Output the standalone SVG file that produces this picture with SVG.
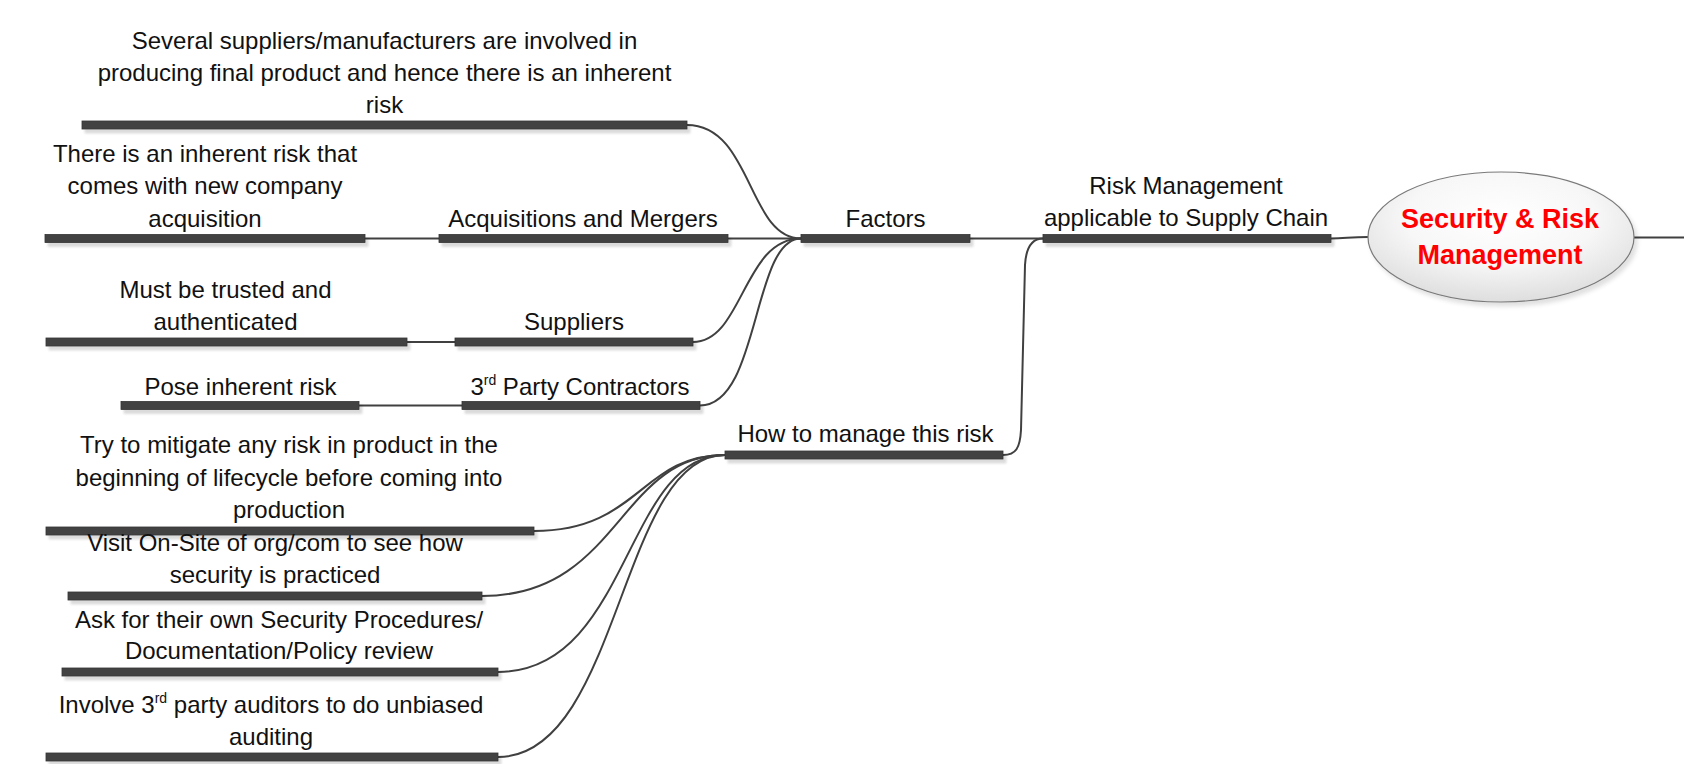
<svg xmlns="http://www.w3.org/2000/svg" width="1684" height="764" viewBox="0 0 1684 764">
  <style>
    .lbl { font-family: "Liberation Sans", Arial, sans-serif; font-size: 24px; fill: #111; text-anchor: middle; }
    .sup { font-size: 14px; }
    .title { font-family: "Liberation Sans", Arial, sans-serif; font-size: 27px; font-weight: bold; fill: #ff0000; text-anchor: middle; }
    .bar { fill: #434343; stroke: #333; stroke-width: 0.8; filter: url(#shadow); }
    .link { fill: none; stroke: #404040; stroke-width: 2; }
  </style>
  <defs>
    <filter id="shadow" x="-5%" y="-100%" width="110%" height="300%">
      <feDropShadow dx="3" dy="4" stdDeviation="1.2" flood-color="#000" flood-opacity="0.14"/>
    </filter>
    <filter id="ovalShadow" x="-10%" y="-10%" width="120%" height="130%">
      <feDropShadow dx="3" dy="4" stdDeviation="2" flood-color="#000" flood-opacity="0.12"/>
    </filter>
    <radialGradient id="ovalFill" cx="50%" cy="35%" r="65%">
      <stop offset="0" stop-color="#ffffff"/>
      <stop offset="0.55" stop-color="#f7f7f7"/>
      <stop offset="1" stop-color="#dedede"/>
    </radialGradient>
  </defs>

  <!-- connectors -->
  <g id="connectors">
    <path class="link" d="M687,125 C752,125 748,238.5 801,238.5"/>
    <path class="link" d="M728,238.5 L801,238.5"/>
    <path class="link" d="M693,342 C743,342 743,238.5 801,238.5"/>
    <path class="link" d="M700,405.5 C760,405.5 752,238.5 801,238.5"/>
    <path class="link" d="M365,238.5 L439,238.5"/>
    <path class="link" d="M407,342 L455,342"/>
    <path class="link" d="M359,405.5 L462,405.5"/>
    <path class="link" d="M970,238.5 L1043,238.5"/>
    <path class="link" d="M1003,455 C1016,455 1020,448 1021,430 L1025,265 C1026,248 1032,238.5 1043,238.5"/>
    <path class="link" d="M1331,238.5 C1345,238.5 1350,237 1368,237"/>
    <path class="link" d="M1634,237.5 L1684,237.5"/>
    <path class="link" d="M534,531 C640,531 640,455 725,455"/>
    <path class="link" d="M482,596 C620,596 618,455 725,455"/>
    <path class="link" d="M498,672 C630,672 624,455 725,455"/>
    <path class="link" d="M498,757 C620,757 620,455 725,455"/>
  </g>

  <!-- central topic -->
  <g id="root">
    <ellipse cx="1501" cy="237" rx="133" ry="65" fill="url(#ovalFill)" stroke="#7a7a7a" stroke-width="1.2" filter="url(#ovalShadow)"/>
    <text class="title" x="1500" y="228">Security &amp; Risk</text>
    <text class="title" x="1500" y="264">Management</text>
  </g>

  <g id="risk-supply-chain">
    <rect class="bar" x="1043" y="234.5" width="288" height="8"/>
    <text class="lbl" x="1186" y="194">Risk Management</text>
    <text class="lbl" x="1186" y="226">applicable to Supply Chain</text>
  </g>

  <g id="factors">
    <rect class="bar" x="801" y="234.5" width="169" height="8"/>
    <text class="lbl" x="885.5" y="226.5">Factors</text>
  </g>

  <g id="how-to-manage">
    <rect class="bar" x="725" y="451" width="278" height="8"/>
    <text class="lbl" x="865.5" y="442">How to manage this risk</text>
  </g>

  <g id="several-suppliers">
    <rect class="bar" x="82" y="121" width="605" height="8"/>
    <text class="lbl" x="384.5" y="49">Several suppliers/manufacturers are involved in</text>
    <text class="lbl" x="384.5" y="81">producing final product and hence there is an inherent</text>
    <text class="lbl" x="384.5" y="113">risk</text>
  </g>

  <g id="acquisitions">
    <rect class="bar" x="439" y="234.5" width="289" height="8"/>
    <text class="lbl" x="583" y="226.5">Acquisitions and Mergers</text>
  </g>

  <g id="acquisition-risk">
    <rect class="bar" x="45" y="234.5" width="320" height="8"/>
    <text class="lbl" x="205" y="162">There is an inherent risk that</text>
    <text class="lbl" x="205" y="194">comes with new company</text>
    <text class="lbl" x="205" y="226.5">acquisition</text>
  </g>

  <g id="suppliers">
    <rect class="bar" x="455" y="338" width="238" height="8"/>
    <text class="lbl" x="574" y="330">Suppliers</text>
  </g>

  <g id="trusted">
    <rect class="bar" x="46" y="338" width="361" height="8"/>
    <text class="lbl" x="225.5" y="298">Must be trusted and</text>
    <text class="lbl" x="225.5" y="330">authenticated</text>
  </g>

  <g id="contractors">
    <rect class="bar" x="462" y="401.5" width="238" height="8"/>
    <text class="lbl" x="580" y="395">3<tspan class="sup" dy="-10">rd</tspan><tspan dy="10"> Party Contractors</tspan></text>
  </g>

  <g id="pose-risk">
    <rect class="bar" x="121" y="401.5" width="238" height="8"/>
    <text class="lbl" x="240.5" y="395">Pose inherent risk</text>
  </g>

  <g id="mitigate">
    <rect class="bar" x="46" y="527" width="488" height="8"/>
    <text class="lbl" x="289" y="453">Try to mitigate any risk in product in the</text>
    <text class="lbl" x="289" y="486">beginning of lifecycle before coming into</text>
    <text class="lbl" x="289" y="518">production</text>
  </g>

  <g id="visit-onsite">
    <rect class="bar" x="68" y="592" width="414" height="8"/>
    <text class="lbl" x="275" y="551">Visit On-Site of org/com to see how</text>
    <text class="lbl" x="275" y="583">security is practiced</text>
  </g>

  <g id="ask-procedures">
    <rect class="bar" x="62" y="668" width="436" height="8"/>
    <text class="lbl" x="279" y="628">Ask for their own Security Procedures/</text>
    <text class="lbl" x="279" y="659">Documentation/Policy review</text>
  </g>

  <g id="auditors">
    <rect class="bar" x="46" y="753" width="452" height="8"/>
    <text class="lbl" x="271" y="713">Involve 3<tspan class="sup" dy="-10">rd</tspan><tspan dy="10"> party auditors to do unbiased</tspan></text>
    <text class="lbl" x="271" y="745">auditing</text>
  </g>
</svg>
